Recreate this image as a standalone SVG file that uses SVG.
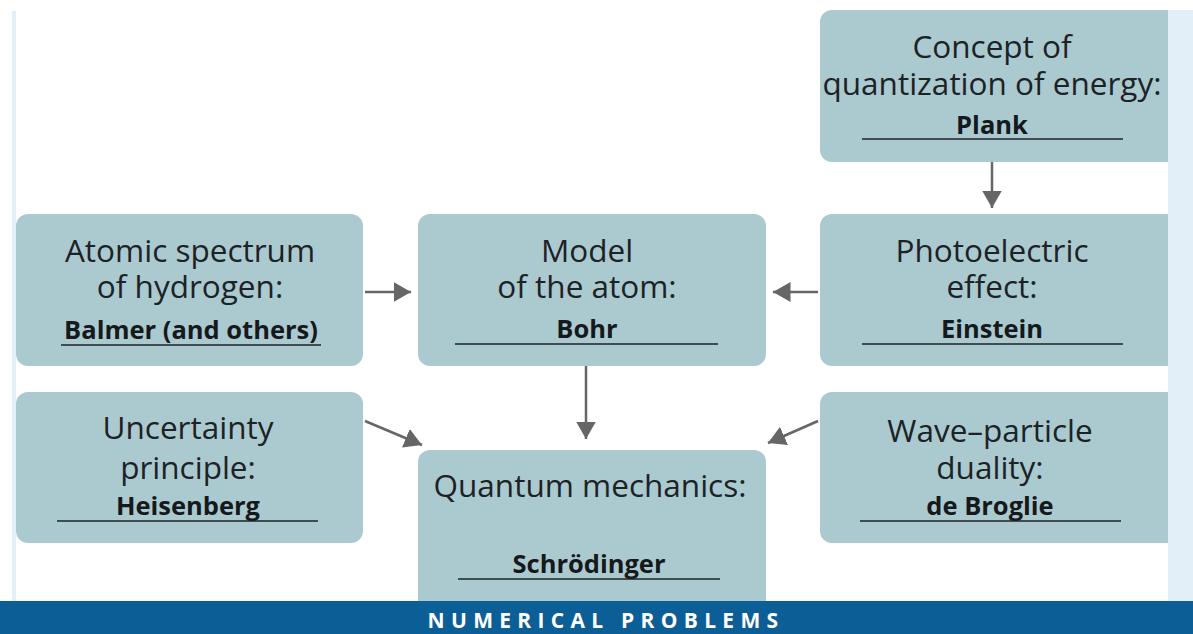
<svg xmlns="http://www.w3.org/2000/svg" width="1193" height="634" viewBox="0 0 1193 634">
<style>
.box{fill:#aacad0}
.t{font-family:"Open Sans","Noto Sans",sans-serif;font-size:31.5px;fill:#1c2226;text-anchor:middle}
.b{font-family:"Open Sans","Noto Sans",sans-serif;font-size:25.5px;font-weight:bold;fill:#15191c;text-anchor:middle}
.ul{stroke:#1c2226;stroke-width:1.5}
.c{stroke:#666;stroke-width:2.5;fill:none;marker-end:url(#ah)}
</style>
<defs>
<marker id="ah" markerWidth="8" markerHeight="8" refX="7" refY="4" orient="auto" markerUnits="strokeWidth">
<path d="M0,0 L7,4 L0,8 Z" fill="#666"/>
</marker>
</defs>
<rect width="1193" height="634" fill="#ffffff"/>
<rect x="12" y="11" width="4" height="590" fill="#e2eef8"/>
<g id="plank"><rect class="box" x="820" y="10" width="360" height="152" rx="12"/>
<text class="t" x="992" y="58">Concept of</text>
<text class="t" x="992" y="95">quantization of energy:</text>
<text class="b" x="992" y="134">Plank</text>
<line class="ul" x1="862" y1="139" x2="1123" y2="139"/></g>
<g id="atomic"><rect class="box" x="16" y="214" width="347" height="152" rx="12"/>
<text class="t" x="190" y="262">Atomic spectrum</text>
<text class="t" x="190" y="298">of hydrogen:</text>
<text class="b" x="191" y="339">Balmer (and others)</text>
<line class="ul" x1="61" y1="345" x2="321" y2="345"/></g>
<g id="model"><rect class="box" x="418" y="214" width="348" height="152" rx="12"/>
<text class="t" x="587" y="262">Model</text>
<text class="t" x="587" y="298">of the atom:</text>
<text class="b" x="587" y="338">Bohr</text>
<line class="ul" x1="455" y1="344" x2="718" y2="344"/></g>
<g id="photo"><rect class="box" x="820" y="214" width="360" height="152" rx="12"/>
<text class="t" x="992" y="262">Photoelectric</text>
<text class="t" x="992" y="298">effect:</text>
<text class="b" x="992" y="338">Einstein</text>
<line class="ul" x1="862" y1="344" x2="1123" y2="344"/></g>
<g id="uncert"><rect class="box" x="16" y="392" width="347" height="151" rx="12"/>
<text class="t" x="188" y="439">Uncertainty</text>
<text class="t" x="188" y="479">principle:</text>
<text class="b" x="188" y="515">Heisenberg</text>
<line class="ul" x1="57" y1="521" x2="318" y2="521"/></g>
<g id="quantum"><rect class="box" x="418" y="450" width="348" height="170" rx="12"/>
<text class="t" x="590" y="497">Quantum mechanics:</text>
<text class="b" x="589" y="573">Schrödinger</text>
<line class="ul" x1="458" y1="579" x2="720" y2="579"/></g>
<g id="wave"><rect class="box" x="820" y="392" width="360" height="151" rx="12"/>
<text class="t" x="990" y="442">Wave–particle</text>
<text class="t" x="990" y="479">duality:</text>
<text class="b" x="990" y="515">de Broglie</text>
<line class="ul" x1="860" y1="521" x2="1121" y2="521"/></g>
<rect x="1168" y="10" width="25" height="591" fill="#e2eef8"/>
<g id="connectors">
<line class="c" x1="992" y1="162" x2="992" y2="208"/>
<line class="c" x1="365" y1="292" x2="411" y2="292"/>
<line class="c" x1="818" y1="292" x2="773" y2="292"/>
<line class="c" x1="586" y1="366" x2="586" y2="439"/>
<line class="c" x1="365" y1="421" x2="422" y2="445"/>
<line class="c" x1="818" y1="421" x2="768" y2="443"/>
</g>
<rect x="0" y="601" width="1193" height="33" fill="#0b5e96"/>
<text x="606" y="628" font-family="'Open Sans','Noto Sans',sans-serif" font-size="21" font-weight="bold" fill="#ffffff" text-anchor="middle" letter-spacing="6.3">NUMERICAL PROBLEMS</text>
</svg>
